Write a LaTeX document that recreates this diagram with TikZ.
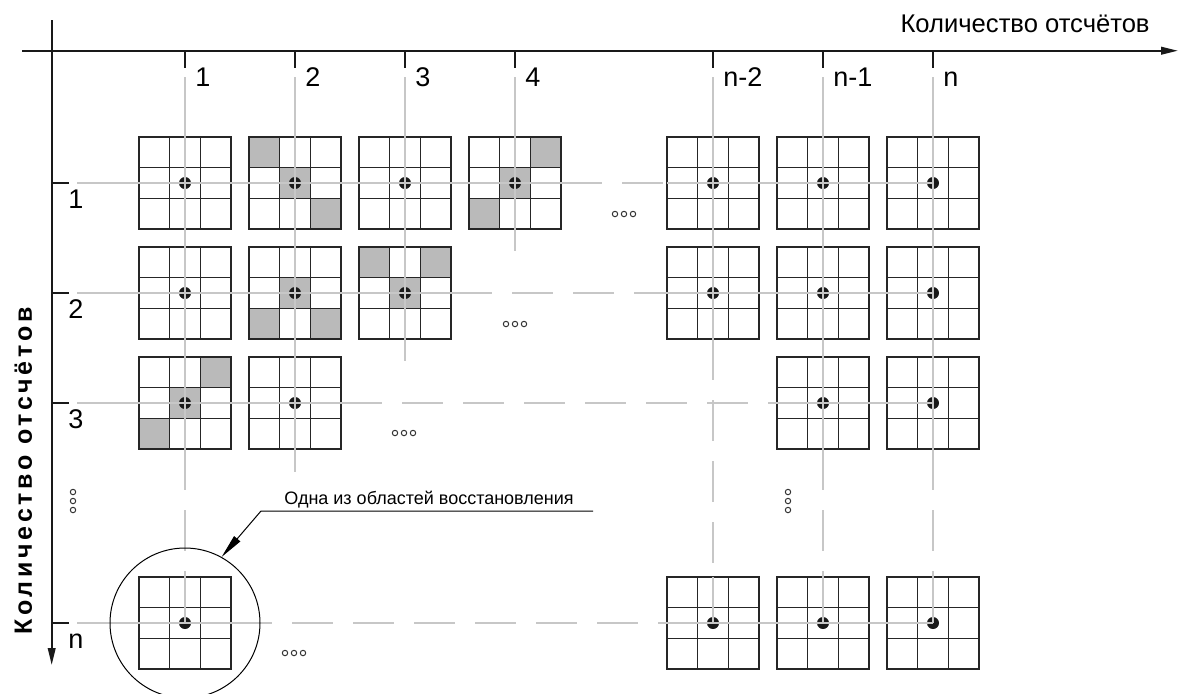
\documentclass[tikz,border=0pt]{standalone}
\usepackage{fontspec}
\setmainfont{Liberation Sans}
\newfontfamily\axisfont[LetterSpace=15]{Liberation Sans}
\usetikzlibrary{arrows.meta}

\begin{document}
\begin{tikzpicture}[x=0.5pt, y=-0.5pt,
    cellline/.style={draw=black!85, line width=0.75pt},
    shaded/.style={fill=black!27},
    guide/.style={draw=black!22, line width=0.75pt},
    guidedash/.style={guide, dash pattern=on 20.5pt off 10pt},
    axis/.style={draw=black!90, line width=1pt},
    tip/.style={-{Triangle[length=8.5pt,width=3.8pt]}},
    numlabel/.style={anchor=base west, inner sep=0pt, font=\fontsize{13.5}{16}\selectfont},
    threedots/.style={draw=black!80, line width=0.5pt},
    grid3/.pic={
        \draw[cellline] (-46,-46) rectangle (46,46)
            (-15.33,-46) -- (-15.33,46) (15.33,-46) -- (15.33,46)
            (-46,-15.33) -- (46,-15.33) (-46,15.33) -- (46,15.33);
        \fill[black!90] (0,0) circle[radius=6];
    }
]
\useasboundingbox (0,0) rectangle (1179,693);

% shaded cells
\foreach \gx/\gy/\i/\j in {295/183/-1/-1, 295/183/0/0, 295/183/1/1,
        515/183/1/-1, 515/183/0/0, 515/183/-1/1,
        295/293/0/0, 295/293/-1/1, 295/293/1/1,
        405/293/-1/-1, 405/293/1/-1, 405/293/0/0,
        185/403/1/-1, 185/403/0/0, 185/403/-1/1}
    \fill[shaded] ({\gx+30.67*\i-15.33},{\gy+30.67*\j-15.33}) rectangle ++(30.67,30.67);

% recovery areas
\foreach \gx in {185,295,405,515,713,823,933} \pic at (\gx,183) {grid3};
\foreach \gx in {185,295,405,713,823,933} \pic at (\gx,293) {grid3};
\foreach \gx in {185,295,823,933} \pic at (\gx,403) {grid3};
\foreach \gx in {185,713,823,933} \pic at (\gx,623) {grid3};

% guide lines
\foreach \gx/\gend in {185/449, 295/472, 405/361, 515/251, 713/339, 823/449, 933/449}
    \draw[guide] (\gx,77) -- (\gx,\gend);
\foreach \gx/\gtop in {185/449, 713/339, 823/449, 933/449} {
    \draw[guidedash] (\gx,\gtop) -- (\gx,577);
    \draw[guide] (\gx,577) -- (\gx,623);
}
\foreach \gy/\gend/\gnext in {183/561/667, 293/451/667, 403/341/777, 623/231/667} {
    \draw[guide] (77,\gy) -- (\gend,\gy);
    \draw[guidedash] (\gend,\gy) -- (\gnext,\gy);
    \draw[guide] (\gnext,\gy) -- (933,\gy);
}

% axes
\coordinate (xfrom) at (22,50.7);
\coordinate (xto) at (1178,50.7);
\coordinate (yfrom) at (51.7,20);
\coordinate (yto) at (51.7,665);
\draw[axis, tip] (xfrom) -- (xto);
\draw[axis, tip] (yfrom) -- (yto);
\foreach \gx in {185,295,405,515,713,823,933} \draw[axis] (\gx,50.7) -- (\gx,68);
\foreach \gy in {183,293,403,623} \draw[axis] (51.7,\gy) -- (69,\gy);

\node[anchor=base east, inner sep=0pt, font=\fontsize{12.8}{15}\selectfont] (xtitle) at (1150,32) {Количество отсчётов};
\node[rotate=90, anchor=base, inner sep=0pt, font=\axisfont\bfseries\fontsize{12.5}{15}\selectfont] (ytitle) at (32,471) {Количество отсчётов};

\foreach \gx/\txt [count=\k] in {185/1, 295/2, 405/3, 515/4, 713/n-2, 823/n-1, 933/n}
    \node[numlabel] (col\k) at (\gx+10,86) {\txt};
\foreach \gy/\txt [count=\k] in {183/1, 293/2, 403/3, 623/n}
    \node[numlabel] (row\k) at (68,\gy+25) {\txt};

% omitted areas
\foreach \dx/\dy in {624/214, 515/324, 404/433, 294/653}
    \foreach \k in {-1,0,1}
        \draw[threedots] (\dx+9*\k,\dy) circle[radius=2.7];
\foreach \dx/\dy in {73/501, 788/501}
    \foreach \k in {-1,0,1}
        \draw[threedots] (\dx,\dy+9*\k) circle[radius=2.7];

% callout
\node[circle, draw, line width=0.5pt, minimum size=75pt, inner sep=0pt] (zone) at (185,623) {};
\node[anchor=base west, inner sep=0pt, font=\fontsize{9}{11}\selectfont] (note) at (284,504) {Одна из областей восстановления};
\coordinate (bend) at (261,511);
\coordinate (noteend) at (593,511);
\draw[line width=0.5pt, -{Triangle[length=12pt,width=4pt]}] (noteend) -- (bend) -- (zone.61);
\end{tikzpicture}
\end{document}
